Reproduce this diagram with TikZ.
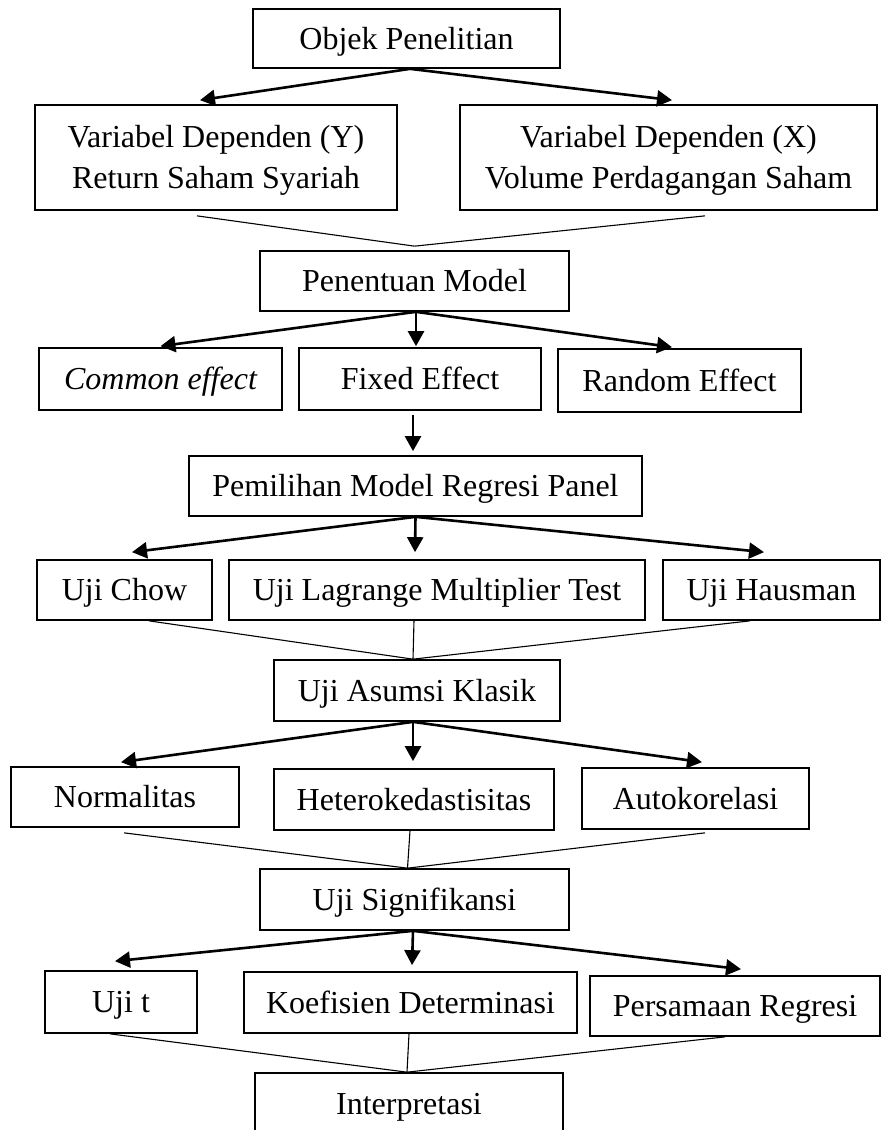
\documentclass[tikz,border=0pt]{standalone}
\usepackage{fontspec}
\setmainfont{Liberation Serif}
\usetikzlibrary{arrows.meta,calc}
\tikzset{
  box/.style={draw, line width=1.7pt, inner sep=0pt, align=center,
    font=\fontsize{32}{41}\selectfont, text height=21pt, text depth=0pt},
  twoline/.style={text height=62pt},
  arr/.style={line width=2.6pt, -{Triangle[length=15pt,width=16pt]}},
  thinline/.style={line width=1.1pt}
}
\begin{document}
\begin{tikzpicture}[x=1pt,y=-1pt]
\useasboundingbox (0,0) rectangle (881,1130);
% boxes
\node[box, minimum width=307pt, minimum height=59pt] (obj) at (406.5,38.5) {Objek Penelitian};
\node[box, twoline, minimum width=362pt, minimum height=105pt] (varY) at (216,157.5) {Variabel Dependen (Y)\\Return Saham Syariah};
\node[box, twoline, minimum width=417pt, minimum height=105pt] (varX) at (668.5,157.5) {Variabel Dependen (X)\\Volume Perdagangan Saham};
\node[box, minimum width=309pt, minimum height=60pt] (pen) at (414.5,281) {Penentuan Model};
\node[box, minimum width=243pt, minimum height=62pt] (common) at (160.5,379) {\itshape Common effect};
\node[box, minimum width=242pt, minimum height=62pt] (fixed) at (420,379) {Fixed Effect};
\node[box, minimum width=243pt, minimum height=63pt] (random) at (679.5,380.5) {Random Effect};
\node[box, minimum width=453pt, minimum height=60pt] (pem) at (415.5,486) {Pemilihan Model Regresi Panel};
\node[box, minimum width=175pt, minimum height=60pt] (chow) at (124.5,590) {Uji Chow};
\node[box, minimum width=416pt, minimum height=60pt] (lm) at (437,590) {Uji Lagrange Multiplier Test};
\node[box, minimum width=217pt, minimum height=60pt] (haus) at (771.5,590) {Uji Hausman};
\node[box, minimum width=286pt, minimum height=61pt] (asumsi) at (417,690.5) {Uji Asumsi Klasik};
\node[box, minimum width=228pt, minimum height=60pt] (norm) at (125,797) {Normalitas};
\node[box, minimum width=280pt, minimum height=61pt] (hetero) at (414,799.5) {Heterokedastisitas};
\node[box, minimum width=227pt, minimum height=61pt] (auto) at (695.5,798.5) {Autokorelasi};
\node[box, minimum width=309pt, minimum height=61pt] (sig) at (414.5,899.5) {Uji Signifikansi};
\node[box, minimum width=152pt, minimum height=62pt] (ujit) at (121,1002) {Uji t};
\node[box, minimum width=333pt, minimum height=61pt] (koef) at (410.5,1002.5) {Koefisien Determinasi};
\node[box, minimum width=290pt, minimum height=60pt] (pers) at (735,1006) {Persamaan Regresi};
\node[box, minimum width=308pt, minimum height=62pt] (interp) at (409,1104) {Interpretasi};
% thick arrows
\draw[arr] ([xshift=3.5pt]obj.south) -- ([shift={(-16pt,4pt)}]varY.north);
\draw[arr] ([xshift=3.5pt]obj.south) -- ([shift={(3.5pt,4pt)}]varX.north);
\draw[arr] ([xshift=1.5pt]pen.south) -- ([shift={(0pt,1pt)}]common.north);
\draw[arr] ([xshift=1.5pt]pen.south) -- ([shift={(-4pt,1pt)}]fixed.north);
\draw[arr] ([xshift=1.5pt]pen.south) -- ([shift={(-7.5pt,1pt)}]random.north);
\draw[arr] ([shift={(-7pt,-4pt)}]fixed.south) -- ([shift={(-2.5pt,4pt)}]pem.north);
\draw[arr] (pem.south) -- ([shift={(7.5pt,7pt)}]chow.north);
\draw[arr] (pem.south) -- ([shift={(-22pt,7pt)}]lm.north);
\draw[arr] (pem.south) -- ([shift={(-7.5pt,7pt)}]haus.north);
\draw[arr] ([xshift=-4pt]asumsi.south) -- ([shift={(-4pt,4pt)}]norm.north);
\draw[arr] ([xshift=-4pt]asumsi.south) -- ([shift={(-1pt,7pt)}]hetero.north);
\draw[arr] ([xshift=-4pt]asumsi.south) -- ([shift={(6.5pt,5pt)}]auto.north);
\draw[arr] ([xshift=-1.5pt]sig.south) -- ([shift={(-6pt,9pt)}]ujit.north);
\draw[arr] ([xshift=-1.5pt]sig.south) -- ([shift={(1.5pt,6pt)}]koef.north);
\draw[arr] ([xshift=-1.5pt]sig.south) -- ([shift={(6pt,6pt)}]pers.north);
% thin converging lines
\draw[thinline] ([shift={(-19pt,-5pt)}]varY.south) -- ([yshift=4pt]pen.north);
\draw[thinline] ([shift={(36.5pt,-5pt)}]varX.south) -- ([yshift=4pt]pen.north);
\draw[thinline] ([xshift=24.5pt]chow.south) -- ([xshift=-4pt]asumsi.north);
\draw[thinline] ([xshift=-23pt]lm.south) -- ([xshift=-4pt]asumsi.north);
\draw[thinline] ([xshift=-21.5pt]haus.south) -- ([xshift=-4pt]asumsi.north);
\draw[thinline] ([shift={(-1pt,-5pt)}]norm.south) -- ([xshift=-7pt]sig.north);
\draw[thinline] ([xshift=-4pt]hetero.south) -- ([xshift=-7pt]sig.north);
\draw[thinline] ([shift={(9.5pt,-3pt)}]auto.south) -- ([xshift=-7pt]sig.north);
\draw[thinline] ([xshift=-11pt]ujit.south) -- ([xshift=-2pt]interp.north);
\draw[thinline] ([xshift=-1.5pt]koef.south) -- ([xshift=-2pt]interp.north);
\draw[thinline] ([xshift=-10pt]pers.south) -- ([xshift=-2pt]interp.north);
\end{tikzpicture}
\end{document}
